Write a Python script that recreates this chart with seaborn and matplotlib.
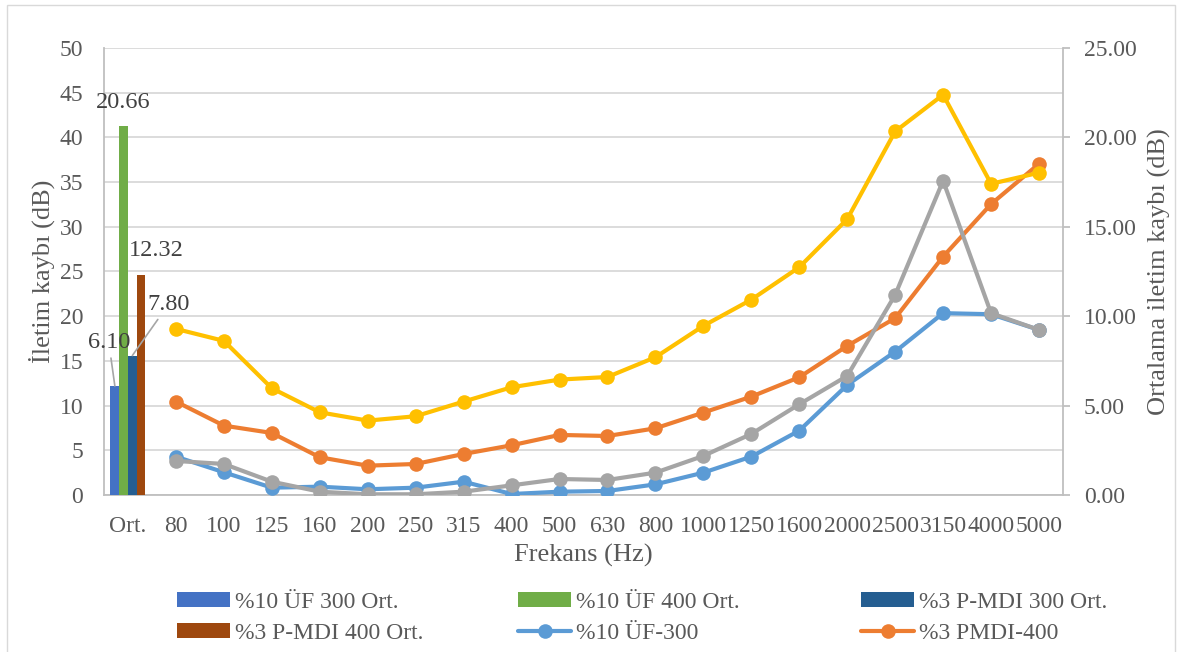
import matplotlib
matplotlib.use("Agg")
import matplotlib.pyplot as plt
from matplotlib.patches import Patch, Rectangle
from matplotlib.lines import Line2D
import pandas as pd
import seaborn as sns

# Frequency bands (the first slot holds the averaged bars)
categories = ["Ort.", "80", "100", "125", "160", "200", "250", "315", "400", "500",
              "630", "800", "1000", "1250", "1600", "2000", "2500", "3150", "4000", "5000"]

# Transmission loss per band (dB)
uf300 = [4.29, 2.54, 0.82, 0.93, 0.64, 0.82, 1.49, 0.11, 0.37, 0.45,
         1.19, 2.50, 4.29, 7.20, 12.31, 16.04, 20.34, 20.22, 18.47]
pmdi400 = [10.45, 7.76, 6.94, 4.22, 3.28, 3.47, 4.59, 5.56, 6.72, 6.60,
           7.46, 9.22, 11.00, 13.17, 16.68, 19.78, 26.67, 32.54, 37.05]
pmdi300 = [3.81, 3.47, 1.49, 0.37, 0.08, 0.08, 0.37, 1.08, 1.79, 1.68,
           2.50, 4.37, 6.83, 10.15, 13.32, 22.39, 35.15, 20.34, 18.47]
uf400 = [18.58, 17.24, 11.94, 9.25, 8.32, 8.81, 10.45, 12.05, 12.91, 13.20,
         15.41, 18.92, 21.85, 25.48, 30.86, 40.67, 44.77, 34.81, 36.05]

# Average transmission loss (dB), right axis
avg_labels = ["%10 ÜF 300 Ort.", "%10 ÜF 400 Ort.", "%3 P-MDI 300 Ort.", "%3 P-MDI 400 Ort."]
avg_values = [6.10, 20.66, 7.80, 12.32]
avg_colors = ["#4472C4", "#70AD47", "#255E91", "#9E480E"]

line_series = [
    ("%10 ÜF-300", uf300, "#5B9BD5"),
    ("%3 PMDI-400", pmdi400, "#ED7D31"),
    ("%3 PMDI-300", pmdi300, "#A5A5A5"),
    ("%10 ÜF-400", uf400, "#FFC000"),
]

sns.set_theme(style="white")
plt.rcParams["font.family"] = ["Liberation Serif", "DejaVu Serif"]
TXT = "#595959"
LBL = "#404040"
GRID = "#D9D9D9"
SPINE = "#BFBFBF"
FS_TICK = 17
FS_TITLE = 19
FS_VAL = 17.5
FS_LEG = 17

fig = plt.figure(figsize=(11.8, 6.52), dpi=100)
fig.add_artist(Rectangle((7 / 1180, -0.1), 1168 / 1180, 1.1 - 5 / 652,
                         transform=fig.transFigure, fill=False,
                         edgecolor=GRID, linewidth=1.0))
ax = fig.add_axes([104 / 1180, 1 - 495 / 652, 959 / 1180, 447 / 652])
ax2 = ax.twinx()

# Band lines on the left axis
xpos = list(range(1, len(categories)))
for i, (name, vals, col) in enumerate(line_series):
    df = pd.DataFrame({"x": xpos, "y": vals})
    sns.lineplot(data=df, x="x", y="y", ax=ax, color=col, linewidth=3,
                 marker="o", markersize=10.5, markeredgewidth=0,
                 zorder=3 + i, legend=False)

# Average bars on the right axis
bar_df = pd.DataFrame({"cat": ["Ort."] * 4, "val": avg_values, "series": avg_labels})
sns.barplot(data=bar_df, x="cat", y="val", hue="series", hue_order=avg_labels,
            palette=avg_colors, width=0.73, dodge=True, saturation=1,
            ax=ax2, legend=False)
for p in ax2.patches:
    p.set_edgecolor("none")

ax.set_xlim(-0.5, len(categories) - 0.5)
ax.set_ylim(0, 50)
ax2.set_ylim(0, 25)
ax.set_xticks(range(len(categories)))
ax.set_xticklabels(categories)
ax.set_yticks(range(0, 51, 5))
ax2.set_yticks(range(0, 26, 5))
ax2.set_yticklabels([f"{v:.2f}" for v in range(0, 26, 5)])

ax.yaxis.grid(True, color=GRID, linewidth=1.3)
ax.xaxis.grid(False)
ax.set_axisbelow(True)
for a in (ax, ax2):
    for s in a.spines.values():
        s.set_visible(False)
ax.spines["left"].set_visible(True)
ax.spines["bottom"].set_visible(True)
ax.spines["left"].set_color(SPINE)
ax.spines["bottom"].set_color(SPINE)
ax2.spines["right"].set_visible(True)
ax2.spines["right"].set_color(SPINE)
for s in (ax.spines["left"], ax.spines["bottom"], ax2.spines["right"]):
    s.set_linewidth(1.3)

ax.tick_params(axis="y", length=0, labelsize=FS_TICK, labelcolor=TXT, pad=15)
ax.tick_params(axis="x", length=0, labelsize=FS_TICK, labelcolor=TXT, pad=15)
ax2.tick_params(axis="y", length=5, width=1.3, color=SPINE, labelsize=FS_TICK,
                labelcolor=TXT, pad=10)

ax.set_xlabel("Frekans (Hz)", fontsize=FS_TITLE, color=TXT, labelpad=5)
ax.set_ylabel("İletim kaybı (dB)", fontsize=FS_TITLE, color=TXT, labelpad=3)
ax2.set_ylabel("Ortalama iletim kaybı (dB)", fontsize=FS_TITLE, color=TXT, labelpad=8)

# Value labels for the average bars
bars = sorted(ax2.patches, key=lambda p: p.get_x())
offsets = [(-6, 43), (0, 23), (36, 51), (15, 24)]
leaders = [True, False, True, False]
for bar, val, off, lead in zip(bars, avg_values, offsets, leaders):
    cx = bar.get_x() + bar.get_width() / 2
    arrow = dict(arrowstyle="-", color="#A6A6A6", lw=1.2, shrinkA=1, shrinkB=0) if lead else None
    ax2.annotate(f"{val:.2f}", xy=(cx, val), xytext=off, textcoords="offset pixels",
                 ha="center", va="center", fontsize=FS_VAL, color=LBL,
                 arrowprops=arrow, zorder=10)

# Legend laid out in three fixed columns
handles = [Patch(facecolor=c, edgecolor="none") for c in avg_colors]
handles += [Line2D([], [], color=col, lw=3, marker="o", markersize=10.5, markeredgewidth=0)
            for _, _, col in line_series[:2]]
labels = avg_labels + [n for n, _, _ in line_series[:2]]
order = [(0, 3), (1, 4), (2, 5)]
col_x = [177, 518, 861]
for (i, j), x0 in zip(order, col_x):
    fig.legend([handles[i], handles[j]], [labels[i], labels[j]],
               loc="upper left", bbox_to_anchor=(x0 / 1180, 1 - 592 / 652),
               frameon=False, fontsize=FS_LEG, labelcolor=TXT,
               handlelength=2.25, handleheight=0.6, handletextpad=0.2,
               labelspacing=0.43, borderpad=0, borderaxespad=0)

fig.savefig("out.png", dpi=100)
